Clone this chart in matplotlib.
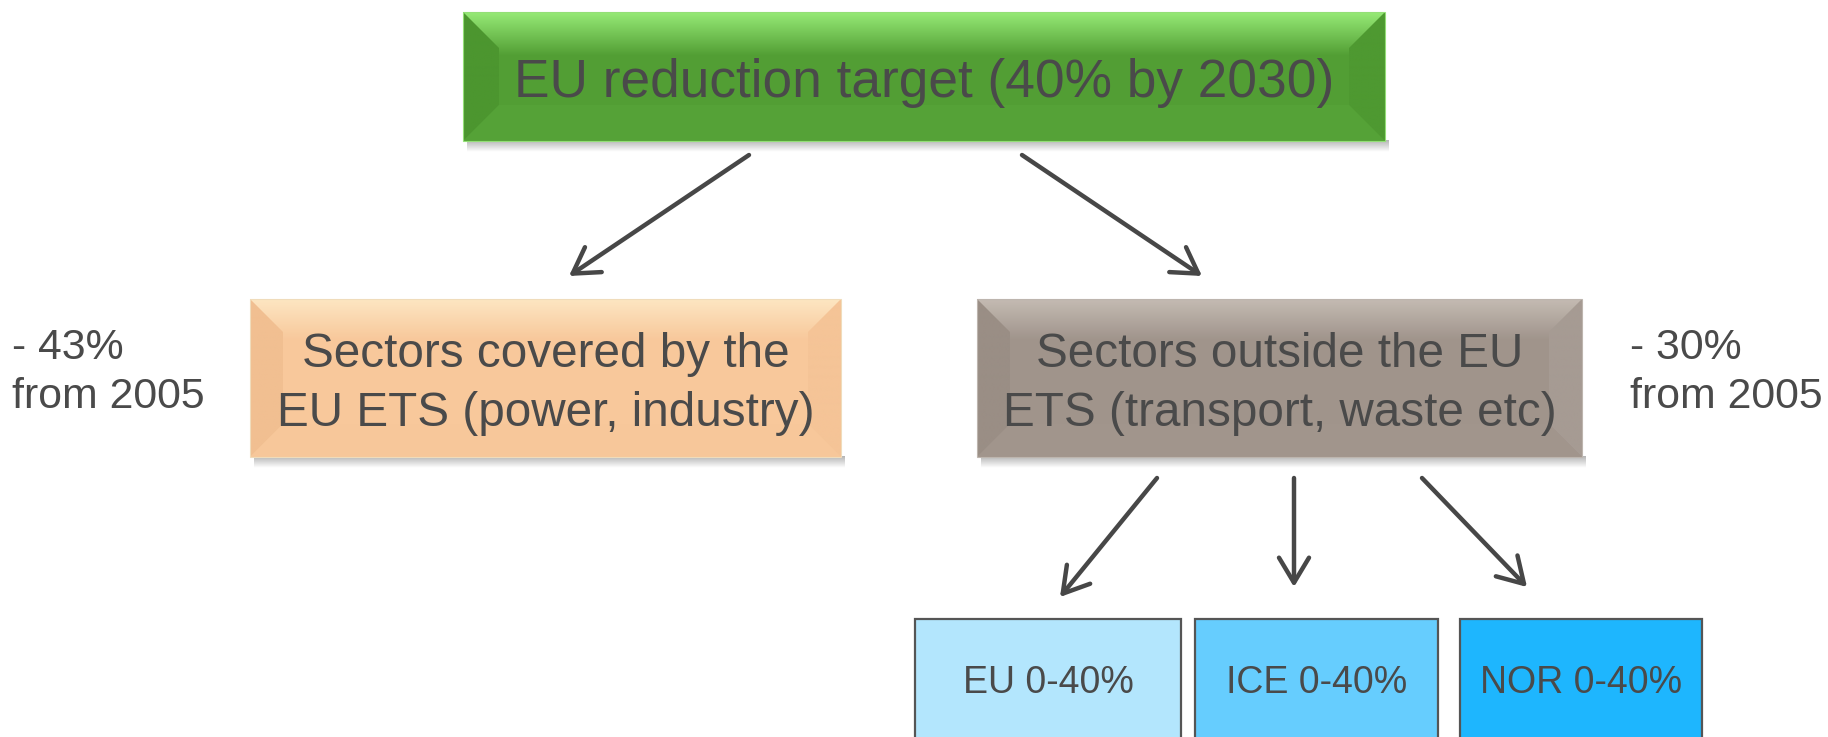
import numpy as np
import matplotlib
matplotlib.use('Agg')
import matplotlib.pyplot as plt
from matplotlib.patches import Polygon, Rectangle, FancyArrowPatch

plt.rcParams['font.family'] = ['Liberation Sans', 'DejaVu Sans']

# ---- content ----
top_label = 'EU reduction target (40% by 2030)'
mid_labels = [['Sectors covered by the', 'EU ETS (power, industry)'],
              ['Sectors outside the EU', 'ETS (transport, waste etc)']]
side_labels = [['- 43%', 'from 2005'], ['- 30%', 'from 2005']]
bottom_labels = ['EU 0-40%', 'ICE 0-40%', 'NOR 0-40%']

# ---- layout (pixels, y down) ----
top_box = (463, 12, 1385, 141)
mid_boxes = [(250, 299, 841, 457), (977, 299, 1582, 457)]
bottom_boxes = [(915, 619, 1181, 760), (1195, 619, 1438, 760), (1460, 619, 1702, 760)]
side_x = [12, 1630]
arrows = [((749, 155), (569, 276)), ((1022, 155), (1202, 276)),
          ((1157, 478), (1060, 597)), ((1294, 478), (1294, 587)),
          ((1422, 478), (1527, 587))]

TXT = '#4a4a4a'

# bevel colours: base, top highlight, left side, right side, bottom
bevel_cols = {
    'green': [(82, 158, 52), (150, 234, 118), (76, 150, 47), (78, 153, 49), (85, 162, 55)],
    'orange': [(248, 200, 155), (253, 230, 194), (241, 191, 145), (245, 196, 151), (247, 199, 154)],
    'gray': [(160, 148, 139), (196, 187, 179), (154, 142, 133), (166, 155, 147), (161, 149, 140)],
}
blue_cols = ['#b3e6fd', '#66cdfe', '#1eb6fe']


def rgb(c):
    return np.array(c, dtype=float) / 255.0


def grad_poly(ax, pts, c0, c1, y0, y1, x0, x1, z):
    clip = Polygon(pts, closed=True, facecolor='none', edgecolor='none')
    ax.add_patch(clip)
    t = np.linspace(0, 1, 64)[:, None]
    cols = (1 - t) * rgb(c0) + t * rgb(c1)
    img = np.repeat(cols[:, None, :], 2, axis=1)
    im = ax.imshow(img, extent=(x0, x1, y1, y0), origin='upper', aspect='auto',
                   interpolation='bilinear', zorder=z)
    im.set_clip_path(clip)


def shadow(ax, box, z):
    x0, y0, x1, y1 = box
    a = np.linspace(0.45, 0.0, 32)
    img = np.zeros((32, 2, 4))
    img[..., :3] = 0.35
    img[..., 3] = a[:, None]
    ax.imshow(img, extent=(x0 + 4, x1 + 4, y1 + 11, y1 - 1), origin='upper',
              aspect='auto', interpolation='bilinear', zorder=z)


def bevel_box(ax, box, name, b=34):
    base, hi, left, right, bot = bevel_cols[name]
    x0, y0, x1, y1 = box
    shadow(ax, box, 1)
    ax.add_patch(Rectangle((x0, y0), x1 - x0, y1 - y0, facecolor=rgb(base),
                           edgecolor='none', zorder=2))
    # top highlight runs across the whole width, fading out below the bevel
    grad_poly(ax, [(x0, y0), (x1, y0), (x1, y0 + b + 8), (x0, y0 + b + 8)],
              hi, base, y0, y0 + b + 8, x0, x1, 3)
    # sides
    grad_poly(ax, [(x0, y0), (x0 + b, y0 + b), (x0 + b, y1 - b), (x0, y1)],
              left, left, y0, y1, x0, x0 + b, 3)
    grad_poly(ax, [(x1, y0), (x1 - b, y0 + b), (x1 - b, y1 - b), (x1, y1)],
              right, right, y0, y1, x1 - b, x1, 3)
    ax.add_patch(Polygon([(x0, y1), (x0 + b, y1 - b), (x1 - b, y1 - b), (x1, y1)],
                         closed=True, facecolor=rgb(bot), edgecolor='none', zorder=3))
    edge = np.clip(rgb(hi) * 0.9 + 0.05, 0, 1)
    ax.add_patch(Rectangle((x0, y0), x1 - x0, y1 - y0, facecolor='none',
                           edgecolor=edge, linewidth=0.8, zorder=4))


fig = plt.figure(figsize=(18.28, 7.37), dpi=100)
ax = fig.add_axes([0, 0, 1, 1])
ax.axis('off')

# top box
bevel_box(ax, top_box, 'green', b=36)
ax.text((top_box[0] + top_box[2]) / 2, 97, top_label, ha='center', va='baseline',
        fontsize=38.3, color=TXT, zorder=5)

# middle boxes
for box, name, lines in zip(mid_boxes, ['orange', 'gray'], mid_labels):
    bevel_box(ax, box, name, b=33)
    cx = (box[0] + box[2]) / 2
    for ln, yb in zip(lines, [367, 426]):
        ax.text(cx, yb, ln, ha='center', va='baseline', fontsize=34.3, color=TXT, zorder=5)

# side notes
for x, lines in zip(side_x, side_labels):
    for ln, yb in zip(lines, [359, 408]):
        ax.text(x, yb, ln, ha='left', va='baseline', fontsize=30.8, color=TXT)

# bottom boxes
for box, col, lab in zip(bottom_boxes, blue_cols, bottom_labels):
    x0, y0, x1, y1 = box
    ax.add_patch(Rectangle((x0, y0), x1 - x0, y1 - y0, facecolor=col,
                           edgecolor='#555555', linewidth=1.6, zorder=2))
    ax.text((x0 + x1) / 2, 693, lab, ha='center', va='baseline', fontsize=27,
            color=TXT, zorder=5)

# arrows
for (p0, p1) in arrows:
    ax.add_patch(FancyArrowPatch(p0, p1, arrowstyle='->,head_length=1.0,head_width=0.6',
                                 mutation_scale=18, linewidth=3.2, color='#474747',
                                 shrinkA=0, shrinkB=0, zorder=6))

ax.set_xlim(0, 1828)
ax.set_ylim(737, 0)
fig.savefig('out.png', dpi=100)
